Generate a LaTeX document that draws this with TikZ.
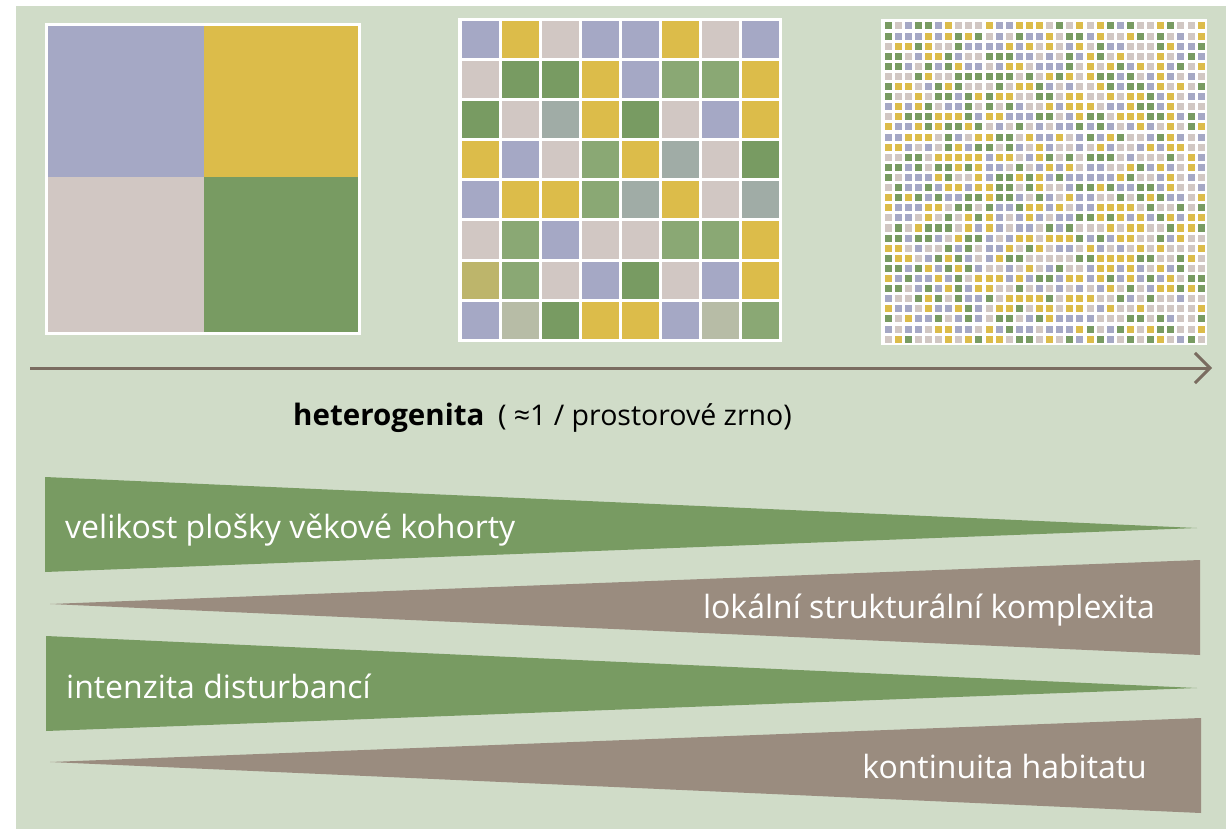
\documentclass[tikz,border=0pt]{standalone}
\usepackage{fontspec}
\setmainfont{Open Sans}
\usetikzlibrary{arrows.meta}
\definecolor{bgc}{HTML}{D0DCC8}
\definecolor{cpur}{HTML}{A5A8C5}
\definecolor{cyel}{HTML}{DCBC4A}
\definecolor{cbei}{HTML}{D1C7C3}
\definecolor{cgrn}{HTML}{789B62}
\definecolor{clgr}{HTML}{8AA874}
\definecolor{cgte}{HTML}{A0ACA6}
\definecolor{coli}{HTML}{BDB56B}
\definecolor{cgbe}{HTML}{B7BCA6}
\definecolor{wedgegreen}{HTML}{789B62}
\definecolor{wedgebrown}{HTML}{9A8C7F}
\definecolor{arrowc}{HTML}{7A6C60}
\colorlet{c1}{cpur}
\colorlet{c2}{cyel}
\colorlet{c3}{cbei}
\colorlet{c4}{cgrn}
\tikzset{
  cell/.style={draw=none},
  wedgeG/.style={fill=wedgegreen, draw=none},
  wedgeB/.style={fill=wedgebrown, draw=none},
  wlabel/.style={text=white, font=\fontsize{32}{36}\selectfont, inner sep=0pt, anchor=base west},
  axis/.style={draw=arrowc, line width=3pt, -{Straight Barb[length=15pt, width=30pt, line width=3pt]}},
}
\begin{document}
\begin{tikzpicture}[x=1pt, y=-1pt]
\useasboundingbox (0,0) rectangle (1226,829);
\fill[white] (0,0) rectangle (1226,829);
\fill[bgc] (16,6) rectangle (1226,829);
% grid 1
\fill[white] (45,23) rectangle (361,335);
\fill[cpur] (48,26) rectangle (204,177);
\fill[cyel] (204,26) rectangle (358,177);
\fill[cbei] (48,177) rectangle (204,332);
\fill[cgrn] (204,177) rectangle (358,332);
% grid 2
\fill[white] (458,18) rectangle (782,342);
\foreach \row [count=\r from 0] in {
 {cpur,cyel,cbei,cpur,cpur,cyel,cbei,cpur},
 {cbei,cgrn,cgrn,cyel,cpur,clgr,clgr,cyel},
 {cgrn,cbei,cgte,cyel,cgrn,cbei,cpur,cyel},
 {cyel,cpur,cbei,clgr,cyel,cgte,cbei,cgrn},
 {cpur,cyel,cyel,clgr,cgte,cyel,cbei,cgte},
 {cbei,clgr,cpur,cbei,cbei,clgr,clgr,cyel},
 {coli,clgr,cbei,cpur,cgrn,cbei,cpur,cyel},
 {cpur,cgbe,cgrn,cyel,cyel,cpur,cgbe,clgr}} {
  \foreach \col [count=\c from 0] in \row {
    \fill[\col] ({460+40*\c+1.5},{20+40*\r+1.5}) rectangle ++(37,37);
  }
}
% grid 3
\fill[white] (881,19) rectangle (1207,345);
\pgfmathsetseed{7131}
\foreach \r in {0,...,31} {
  \foreach \c in {0,...,31} {
    \pgfmathrandominteger{\k}{1}{4}
    \fill[c\k] ({883+10.1*\c+1.5},{21+10.1*\r+1.5}) rectangle ++(7,7);
  }
}
% axis
\coordinate (axL) at (30,368);
\coordinate (axR) at (1212,368);
\draw[axis] (axL) -- (axR);
\node[anchor=base west, inner sep=0pt] (title) at (293,425)
  {\fontsize{29.5}{34}\selectfont\bfseries heterogenita};
\node[anchor=base east, inner sep=0pt] (sub) at (792,425)
  {\fontsize{28.5}{34}\selectfont ( ≈1 / prostorové zrno)};
% wedges
\fill[wedgeG] (45,477) -- (1197,528) -- (45,572) -- cycle;
\fill[wedgeB] (50,604) -- (1200,560) -- (1200,655) -- cycle;
\fill[wedgeG] (46,636) -- (1197,688) -- (46,731) -- cycle;
\fill[wedgeB] (50,762) -- (1201,718) -- (1201,813) -- cycle;
\node[wlabel] (l1) at (65,538) {velikost plošky věkové kohorty};
\node[wlabel, anchor=base east] (l2) at (1155,618) {lokální strukturální komplexita};
\node[wlabel] (l3) at (66,698) {intenzita disturbancí};
\node[wlabel, anchor=base east] (l4) at (1147,778) {kontinuita habitatu};
\end{tikzpicture}
\end{document}
